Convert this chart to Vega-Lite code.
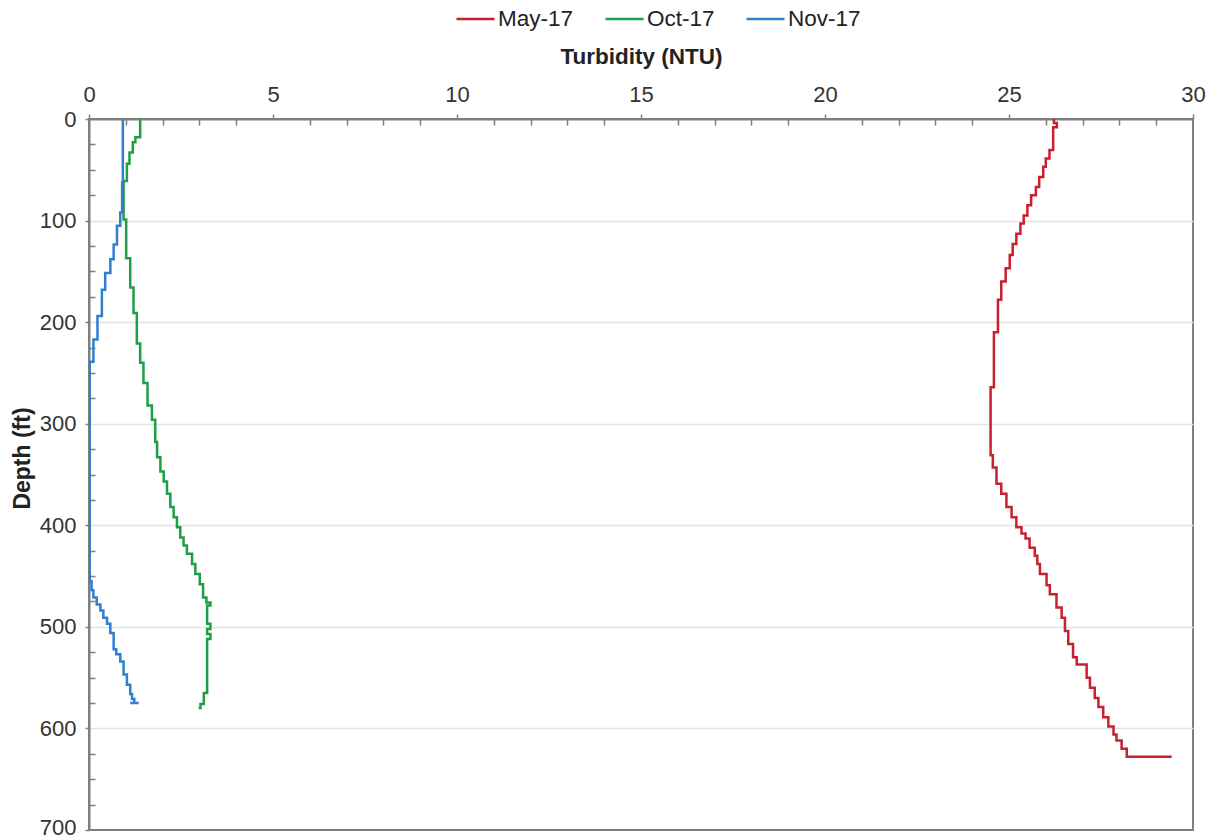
{
  "$schema": "https://vega.github.io/schema/vega-lite/v6.json",
  "width": 1104,
  "height": 711,
  "autosize": {"type": "none"},
  "padding": {"left": 89, "top": 119, "right": 29, "bottom": 10},
  "background": "white",
  "config": {
    "view": {"stroke": "#7f7f7f", "strokeWidth": 2},
    "font": "Liberation Sans"
  },
  "data": {
    "values": [
      {"series": "May-17", "turbidity": 26.22, "depth": 0},
      {"series": "May-17", "turbidity": 26.3, "depth": 4},
      {"series": "May-17", "turbidity": 26.2, "depth": 8},
      {"series": "May-17", "turbidity": 26.1, "depth": 30.6},
      {"series": "May-17", "turbidity": 26.0, "depth": 38.8},
      {"series": "May-17", "turbidity": 25.93, "depth": 47},
      {"series": "May-17", "turbidity": 25.82, "depth": 57},
      {"series": "May-17", "turbidity": 25.73, "depth": 67},
      {"series": "May-17", "turbidity": 25.6, "depth": 75},
      {"series": "May-17", "turbidity": 25.5, "depth": 85},
      {"series": "May-17", "turbidity": 25.4, "depth": 95},
      {"series": "May-17", "turbidity": 25.31, "depth": 103},
      {"series": "May-17", "turbidity": 25.2, "depth": 113},
      {"series": "May-17", "turbidity": 25.1, "depth": 123},
      {"series": "May-17", "turbidity": 25.02, "depth": 134},
      {"series": "May-17", "turbidity": 24.91, "depth": 147},
      {"series": "May-17", "turbidity": 24.79, "depth": 160},
      {"series": "May-17", "turbidity": 24.7, "depth": 178},
      {"series": "May-17", "turbidity": 24.59, "depth": 210},
      {"series": "May-17", "turbidity": 24.5, "depth": 264},
      {"series": "May-17", "turbidity": 24.56, "depth": 331},
      {"series": "May-17", "turbidity": 24.66, "depth": 343},
      {"series": "May-17", "turbidity": 24.79, "depth": 359},
      {"series": "May-17", "turbidity": 24.93, "depth": 369},
      {"series": "May-17", "turbidity": 25.07, "depth": 382},
      {"series": "May-17", "turbidity": 25.2, "depth": 392},
      {"series": "May-17", "turbidity": 25.34, "depth": 402},
      {"series": "May-17", "turbidity": 25.45, "depth": 408},
      {"series": "May-17", "turbidity": 25.56, "depth": 413},
      {"series": "May-17", "turbidity": 25.7, "depth": 422},
      {"series": "May-17", "turbidity": 25.77, "depth": 430},
      {"series": "May-17", "turbidity": 25.84, "depth": 438},
      {"series": "May-17", "turbidity": 26.02, "depth": 448},
      {"series": "May-17", "turbidity": 26.11, "depth": 459},
      {"series": "May-17", "turbidity": 26.29, "depth": 468},
      {"series": "May-17", "turbidity": 26.43, "depth": 481},
      {"series": "May-17", "turbidity": 26.52, "depth": 491},
      {"series": "May-17", "turbidity": 26.61, "depth": 504},
      {"series": "May-17", "turbidity": 26.74, "depth": 517},
      {"series": "May-17", "turbidity": 26.84, "depth": 530},
      {"series": "May-17", "turbidity": 27.11, "depth": 537},
      {"series": "May-17", "turbidity": 27.2, "depth": 550},
      {"series": "May-17", "turbidity": 27.33, "depth": 560},
      {"series": "May-17", "turbidity": 27.43, "depth": 570},
      {"series": "May-17", "turbidity": 27.56, "depth": 579},
      {"series": "May-17", "turbidity": 27.7, "depth": 589},
      {"series": "May-17", "turbidity": 27.84, "depth": 598},
      {"series": "May-17", "turbidity": 27.92, "depth": 606},
      {"series": "May-17", "turbidity": 28.06, "depth": 612},
      {"series": "May-17", "turbidity": 28.2, "depth": 620},
      {"series": "May-17", "turbidity": 28.29, "depth": 628},
      {"series": "May-17", "turbidity": 29.42, "depth": 628},

      {"series": "Oct-17", "turbidity": 1.39, "depth": 0},
      {"series": "Oct-17", "turbidity": 1.26, "depth": 18},
      {"series": "Oct-17", "turbidity": 1.19, "depth": 23},
      {"series": "Oct-17", "turbidity": 1.1, "depth": 33},
      {"series": "Oct-17", "turbidity": 1.03, "depth": 44},
      {"series": "Oct-17", "turbidity": 0.94, "depth": 61},
      {"series": "Oct-17", "turbidity": 1.01, "depth": 99},
      {"series": "Oct-17", "turbidity": 1.12, "depth": 137},
      {"series": "Oct-17", "turbidity": 1.21, "depth": 166},
      {"series": "Oct-17", "turbidity": 1.3, "depth": 191},
      {"series": "Oct-17", "turbidity": 1.39, "depth": 221},
      {"series": "Oct-17", "turbidity": 1.48, "depth": 240},
      {"series": "Oct-17", "turbidity": 1.59, "depth": 260},
      {"series": "Oct-17", "turbidity": 1.71, "depth": 282},
      {"series": "Oct-17", "turbidity": 1.8, "depth": 296},
      {"series": "Oct-17", "turbidity": 1.85, "depth": 318},
      {"series": "Oct-17", "turbidity": 1.94, "depth": 333},
      {"series": "Oct-17", "turbidity": 2.03, "depth": 347},
      {"series": "Oct-17", "turbidity": 2.12, "depth": 357},
      {"series": "Oct-17", "turbidity": 2.21, "depth": 369},
      {"series": "Oct-17", "turbidity": 2.3, "depth": 382},
      {"series": "Oct-17", "turbidity": 2.39, "depth": 392},
      {"series": "Oct-17", "turbidity": 2.48, "depth": 402},
      {"series": "Oct-17", "turbidity": 2.57, "depth": 412},
      {"series": "Oct-17", "turbidity": 2.66, "depth": 420},
      {"series": "Oct-17", "turbidity": 2.8, "depth": 428},
      {"series": "Oct-17", "turbidity": 2.89, "depth": 438},
      {"series": "Oct-17", "turbidity": 3.01, "depth": 448},
      {"series": "Oct-17", "turbidity": 3.1, "depth": 458},
      {"series": "Oct-17", "turbidity": 3.19, "depth": 471},
      {"series": "Oct-17", "turbidity": 3.3, "depth": 476},
      {"series": "Oct-17", "turbidity": 3.21, "depth": 479},
      {"series": "Oct-17", "turbidity": 3.3, "depth": 497},
      {"series": "Oct-17", "turbidity": 3.21, "depth": 502},
      {"series": "Oct-17", "turbidity": 3.3, "depth": 507},
      {"series": "Oct-17", "turbidity": 3.21, "depth": 512},
      {"series": "Oct-17", "turbidity": 3.12, "depth": 565},
      {"series": "Oct-17", "turbidity": 3.03, "depth": 576},
      {"series": "Oct-17", "turbidity": 2.98, "depth": 580},

      {"series": "Nov-17", "turbidity": 0.92, "depth": 0},
      {"series": "Nov-17", "turbidity": 0.9, "depth": 62.6},
      {"series": "Nov-17", "turbidity": 0.85, "depth": 92},
      {"series": "Nov-17", "turbidity": 0.76, "depth": 105},
      {"series": "Nov-17", "turbidity": 0.67, "depth": 123.5},
      {"series": "Nov-17", "turbidity": 0.58, "depth": 138},
      {"series": "Nov-17", "turbidity": 0.44, "depth": 151.5},
      {"series": "Nov-17", "turbidity": 0.35, "depth": 168},
      {"series": "Nov-17", "turbidity": 0.23, "depth": 194},
      {"series": "Nov-17", "turbidity": 0.12, "depth": 217},
      {"series": "Nov-17", "turbidity": 0.02, "depth": 239},
      {"series": "Nov-17", "turbidity": 0.07, "depth": 455},
      {"series": "Nov-17", "turbidity": 0.12, "depth": 464},
      {"series": "Nov-17", "turbidity": 0.21, "depth": 471},
      {"series": "Nov-17", "turbidity": 0.31, "depth": 478},
      {"series": "Nov-17", "turbidity": 0.39, "depth": 484},
      {"series": "Nov-17", "turbidity": 0.49, "depth": 491},
      {"series": "Nov-17", "turbidity": 0.58, "depth": 497},
      {"series": "Nov-17", "turbidity": 0.67, "depth": 506},
      {"series": "Nov-17", "turbidity": 0.74, "depth": 522},
      {"series": "Nov-17", "turbidity": 0.85, "depth": 527},
      {"series": "Nov-17", "turbidity": 0.94, "depth": 534},
      {"series": "Nov-17", "turbidity": 1.03, "depth": 547},
      {"series": "Nov-17", "turbidity": 1.12, "depth": 557},
      {"series": "Nov-17", "turbidity": 1.17, "depth": 566},
      {"series": "Nov-17", "turbidity": 1.23, "depth": 571},
      {"series": "Nov-17", "turbidity": 1.12, "depth": 575},
      {"series": "Nov-17", "turbidity": 1.35, "depth": 575}
    ]
  },
  "mark": {"type": "line", "interpolate": "step-before", "strokeWidth": 2.5, "clip": true},
  "encoding": {
    "x": {
      "field": "turbidity",
      "type": "quantitative",
      "scale": {"domain": [0, 30], "nice": false, "zero": false},
      "axis": {
        "orient": "top",
        "title": "Turbidity (NTU)",
        "titleFontSize": 22.5,
        "titleFontWeight": "bold",
        "titleColor": "#222",
        "titleBaseline": "alphabetic",
        "titleY": -56,
        "values": [0,1,2,3,4,5,6,7,8,9,10,11,12,13,14,15,16,17,18,19,20,21,22,23,24,25,26,27,28,29,30],
        "labelExpr": "datum.value % 5 === 0 ? datum.label : ''",
        "labelFontSize": 22,
        "labelColor": "#333",
        "labelFlush": false,
        "labelOverlap": false,
        "labelPadding": 8,
        "grid": false,
        "domainColor": "#7f7f7f",
        "domainWidth": 2,
        "tickColor": "#7f7f7f",
        "tickWidth": 1.5,
        "tickSize": {"condition": {"test": "datum.value % 5 === 0", "value": 5}, "value": -6}
      }
    },
    "y": {
      "field": "depth",
      "type": "quantitative",
      "scale": {"domain": [0, 700], "nice": false, "reverse": true},
      "axis": {
        "title": "Depth (ft)",
        "titleFontSize": 23,
        "titleFontWeight": "bold",
        "titleColor": "#222",
        "titleAngle": 270,
        "titleAlign": "center",
        "titleBaseline": "alphabetic",
        "titleX": -60,
        "titleY": 339,
        "values": [0,25,50,75,100,125,150,175,200,225,250,275,300,325,350,375,400,425,450,475,500,525,550,575,600,625,650,675,700],
        "labelExpr": "datum.value % 100 === 0 ? datum.label : ''",
        "labelFontSize": 22,
        "labelColor": "#333",
        "labelFlush": false,
        "labelOverlap": false,
        "labelPadding": 9,
        "labelOffset": {"condition": {"test": "datum.value === 700", "value": -3}, "value": 0},
        "grid": true,
        "gridColor": "#e2e2e2",
        "gridWidth": 1.5,
        "gridOpacity": {"condition": {"test": "datum.value % 100 === 0 && datum.value > 0 && datum.value < 700", "value": 1}, "value": 0},
        "domainColor": "#7f7f7f",
        "domainWidth": 2,
        "tickColor": "#7f7f7f",
        "tickWidth": 1.5,
        "tickSize": {"condition": {"test": "datum.value % 100 === 0", "value": 4}, "value": -6}
      }
    },
    "color": {
      "field": "series",
      "type": "nominal",
      "scale": {"domain": ["May-17", "Oct-17", "Nov-17"], "range": ["#c8202e", "#1f9e48", "#2f7fce"]},
      "legend": {
        "orient": "none",
        "legendX": 366,
        "legendY": -120.5,
        "direction": "horizontal",
        "title": null,
        "symbolType": "stroke",
        "symbolSize": 1444,
        "symbolStrokeWidth": 2.5,
        "labelFontSize": 22.5,
        "labelColor": "#222",
        "labelOffset": 2,
        "columnPadding": 26,
        "padding": 0
      }
    },
    "order": {"value": null}
  }
}
